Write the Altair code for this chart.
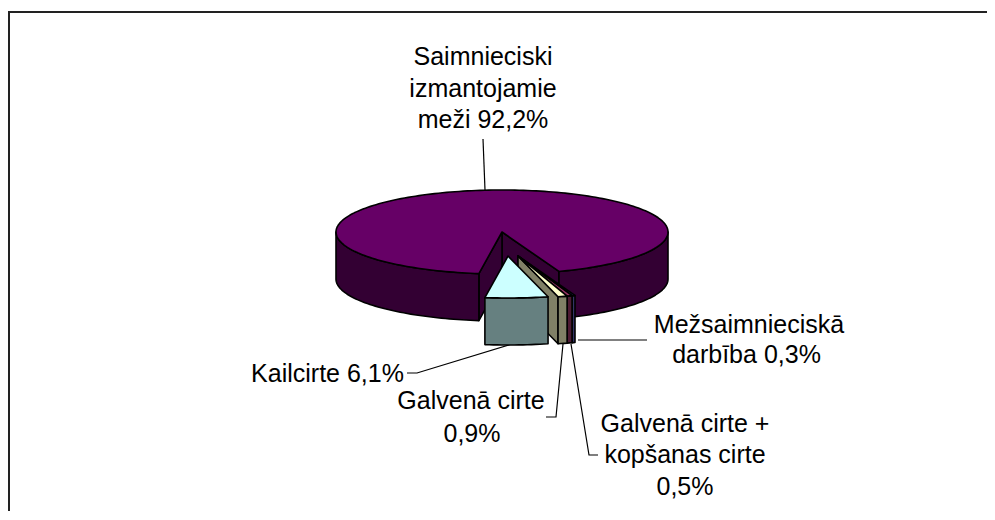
import math
import altair as alt

# Chart values
names = ["Kailcirte", "Galvenā cirte", "Galvenā cirte + kopšanas cirte", "Mežsaimnieciskā darbība", "Saimnieciski izmantojamie meži"]
shares = [6.1, 0.9, 0.5, 0.3, 92.2]
top_colors = ["#CCFFFF", "#FFFFCC", "#993366", "#333399", "#660066"]
side_colors = ["#668080", "#808066", "#4D1A33", "#333366", "#330033"]
explode_x = [6, 16, 16, 16, 0]
explode_y = [24, 24, 24, 24, 0]

label_lines = ["Saimnieciski", "izmantojamie", "meži 92,2%", "Kailcirte 6,1%", "Galvenā cirte", "0,9%",
               "Galvenā cirte +", "kopšanas cirte", "0,5%", "Mežsaimnieciskā", "darbība 0,3%"]
label_x = [483, 483, 483, 327.5, 471, 472, 685, 685, 685, 749, 746.5]
label_y = [65, 97, 128, 382, 409, 442, 432, 463, 495, 333, 363]

leader_id = ["m", "m", "k", "k", "k", "g", "g", "g", "p", "p", "p", "z", "z", "t", "t", "l", "l"]
leader_x = [483, 485, 407, 417, 512, 546, 556, 563, 598, 589, 571, 578, 647, 8, 987, 9, 9]
leader_y = [139, 190, 373, 373, 344, 417, 417, 344, 455, 455, 344, 340, 340, 12, 12, 12, 511]
leader_color = ["#000000"] * 11 + ["#808080"] * 2 + ["#222222"] * 4
leader_width = [1.2] * 11 + [2] * 2 + [2] * 4

W, H = 979, 503
CX, CY, RX, RY, DEPTH = 502, 232, 166, 42, 47
START = -8.0


def pt(a, ox=0, oy=0, dz=0):
    r = math.radians(a)
    return [CX + ox + RX * math.sin(r), CY + oy + RY * math.cos(r) + dz]


def arc(a0, a1, ox=0, oy=0, dz=0):
    n = max(2, int(abs(a1 - a0) / 1.5) + 1)
    return [pt(a0 + (a1 - a0) * i / n, ox, oy, dz) for i in range(n + 1)]


def feature(ring, fill, name):
    ring = ring + [ring[0]]
    return {"type": "Feature", "properties": {"fill": fill, "name": name},
            "geometry": {"type": "Polygon", "coordinates": [ring]}}


def side(a0, a1, ox, oy, fill, name):
    lo, hi = max(a0, -90), min(a1, 90)
    return feature(arc(lo, hi, ox, oy) + arc(hi, lo, ox, oy, DEPTH), fill, name)


def wall(a, ox, oy, fill, name):
    apex = [CX + ox, CY + oy]
    p = pt(a, ox, oy)
    return feature([apex, p, [p[0], p[1] + DEPTH], [apex[0], apex[1] + DEPTH]], fill, name)


spans = []
a = START
for s in shares:
    spans.append((a, a + s * 3.6))
    a += s * 3.6

features = []
# main slice: inner walls, side faces, then top
m0, m1 = spans[4]
features.append(wall(m0, 0, 0, side_colors[4], names[4]))
features.append(wall(START, 0, 0, side_colors[4], names[4]))
features.append(side(m0, 90, 0, 0, side_colors[4], names[4]))
features.append(side(-90, START, 0, 0, side_colors[4], names[4]))
features.append(feature([[CX, CY]] + arc(m0, m1), top_colors[4], names[4]))
# exploded slices, back to front
for i in [3, 2, 1, 0]:
    a0, a1 = spans[i]
    ox, oy = explode_x[i], explode_y[i]
    if a0 > 0:
        features.append(wall(a0, ox, oy, side_colors[i], names[i]))
    features.append(side(a0, a1, ox, oy, side_colors[i], names[i]))
    features.append(feature([[CX + ox, CY + oy]] + arc(a0, a1, ox, oy), top_colors[i], names[i]))

x_scale = alt.Scale(domain=[8, 8 + W], range=[0, W], nice=False, zero=False)
y_scale = alt.Scale(domain=[8, 8 + H], range=[0, H], nice=False, zero=False)

pie = alt.Chart(alt.Data(values=features)).mark_geoshape(
    stroke="#000000", strokeWidth=1.6, strokeJoin="round"
).encode(
    color=alt.Color("properties.fill:N", scale=None)
).project(type="identity", scale=1, translate=[-8, -8])

lines_data = [
    {"id": i, "n": n, "x": x, "y": y, "c": c, "w": w}
    for n, (i, x, y, c, w) in enumerate(zip(leader_id, leader_x, leader_y, leader_color, leader_width))
]
leaders = alt.Chart(alt.Data(values=lines_data)).mark_line().encode(
    x=alt.X("x:Q", scale=x_scale, axis=None),
    y=alt.Y("y:Q", scale=y_scale, axis=None),
    detail="id:N",
    order="n:Q",
    color=alt.Color("c:N", scale=None),
    strokeWidth=alt.StrokeWidth("w:Q", scale=None),
)

text_data = [{"t": t, "x": x, "y": y} for t, x, y in zip(label_lines, label_x, label_y)]
labels = alt.Chart(alt.Data(values=text_data)).mark_text(
    font="Liberation Sans", fontSize=25, align="center", baseline="alphabetic", color="#000000"
).encode(
    x=alt.X("x:Q", scale=x_scale, axis=None),
    y=alt.Y("y:Q", scale=y_scale, axis=None),
    text="t:N",
)

chart = alt.layer(leaders, pie, labels).properties(
    width=W, height=H, padding=0, autosize=alt.AutoSizeParams(type="none"), background="#FFFFFF"
).configure_view(stroke=None)

chart.save("out.html", embed_options={"renderer": "svg", "actions": False})
